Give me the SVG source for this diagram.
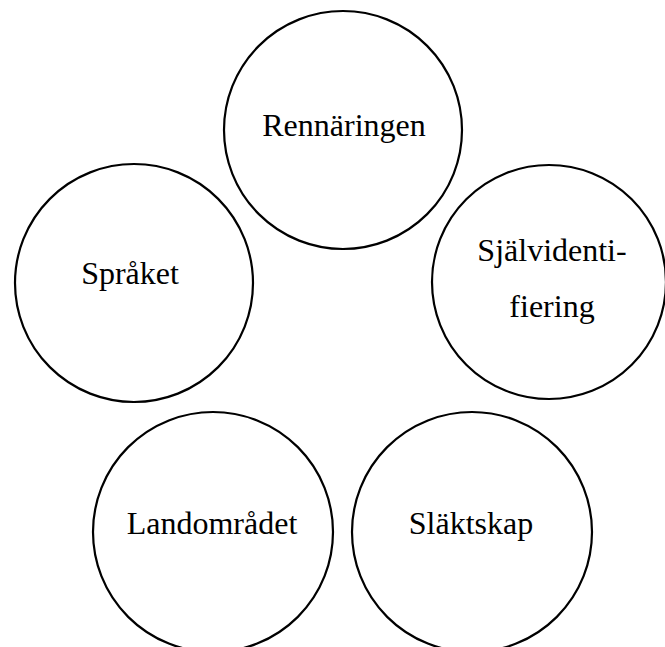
<svg xmlns="http://www.w3.org/2000/svg" width="665" height="647" viewBox="0 0 665 647">
<style>
.c{fill:#fff;stroke:#000;stroke-width:2.2}
.t{font-family:"Liberation Serif","Times New Roman",serif;font-size:32px;fill:#000;text-anchor:middle}
</style>
<rect width="665" height="647" fill="#fff"/>
<g id="rennaringen"><circle class="c" cx="343" cy="130" r="119"/><text class="t" x="344" y="136">Rennäringen</text></g>
<g id="sjalvidentifiering"><circle class="c" cx="549" cy="282" r="117"/><text class="t" x="552" y="261">Självidenti-</text><text class="t" x="552" y="317">fiering</text></g>
<g id="spraket"><circle class="c" cx="134" cy="283" r="119"/><text class="t" x="130" y="284">Språket</text></g>
<g id="landomradet"><circle class="c" cx="213" cy="532" r="120"/><text class="t" x="212" y="534">Landområdet</text></g>
<g id="slaktskap"><circle class="c" cx="472" cy="532" r="120"/><text class="t" x="471" y="534">Släktskap</text></g>
<g id="connectors"></g>
</svg>
